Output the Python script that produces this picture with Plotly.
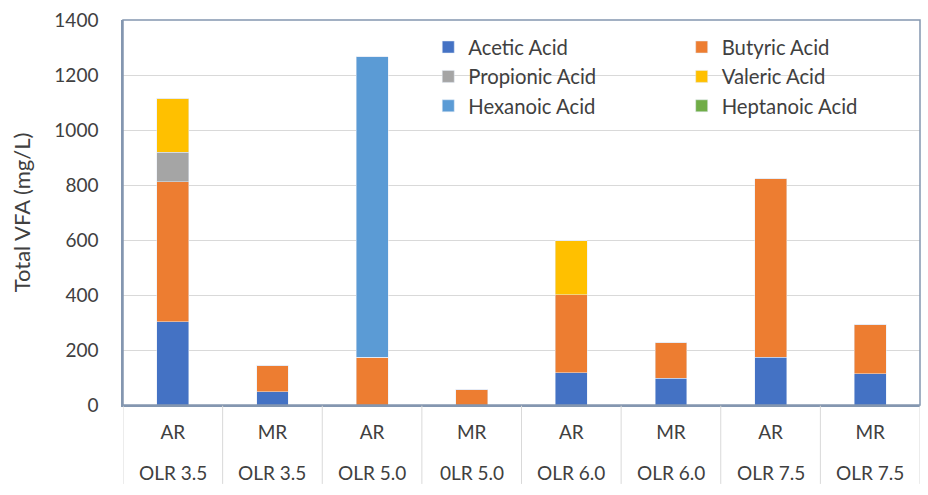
import plotly.graph_objects as go

reactor = ["AR", "MR", "AR", "MR", "AR", "MR", "AR", "MR"]
olr = ["OLR 3.5", "OLR 3.5", "OLR 5.0", "0LR 5.0", "OLR 6.0", "OLR 6.0", "OLR 7.5", "OLR 7.5"]

acetic = [302, 48, 0, 0, 117, 98, 173, 114]
butyric = [510, 96, 173, 57, 284, 129, 649, 179]
propionic = [108, 0, 0, 0, 0, 0, 0, 0]
valeric = [195, 0, 0, 0, 197, 0, 0, 0]
hexanoic = [0, 0, 1094, 0, 0, 0, 0, 0]
heptanoic = [0, 0, 0, 0, 0, 0, 0, 0]

series = [
    ("Acetic Acid", acetic, "#4472c4", "legend"),
    ("Butyric Acid", butyric, "#ed7d31", "legend2"),
    ("Propionic Acid", propionic, "#a5a5a5", "legend"),
    ("Valeric Acid", valeric, "#ffc000", "legend2"),
    ("Hexanoic Acid", hexanoic, "#5b9bd5", "legend"),
    ("Heptanoic Acid", heptanoic, "#70ad47", "legend2"),
]

x_idx = list(range(len(reactor)))
FONT = "Lato"
TXT = "#404040"

fig = go.Figure()
for name, vals, color, lg in series:
    fig.add_trace(go.Bar(
        x=x_idx, y=vals, name=name, marker_color=color, width=0.32,
        legend=lg, legendgroup=name,
    ))

shapes = []
for i in range(len(reactor) + 1):
    shapes.append(dict(type="line", xref="x", yref="paper", x0=i - 0.5, x1=i - 0.5,
                       y0=0, y1=-0.205, line=dict(color="#d9d9d9", width=1)))
shapes.append(dict(type="rect", xref="paper", yref="paper", x0=0, x1=1, y0=0, y1=1,
                   line=dict(color="#8497b0", width=1.5), layer="above"))

annotations = []
for i, t in enumerate(olr):
    annotations.append(dict(x=i, y=-0.175, xref="x", yref="paper", text=t, showarrow=False,
                            font=dict(family=FONT, size=19, color=TXT), yanchor="middle"))

legend_common = dict(font=dict(family=FONT, size=20.3, color=TXT), bgcolor="rgba(0,0,0,0)",
                     orientation="v", tracegroupgap=0, yanchor="top", xanchor="left",
                     itemclick=False)

fig.update_layout(
    width=928, height=495,
    margin=dict(l=123, r=8, t=15, b=90),
    paper_bgcolor="white", plot_bgcolor="white",
    barmode="stack",
    font=dict(family=FONT, size=19, color=TXT),
    xaxis=dict(
        range=[-0.5, len(reactor) - 0.5], tickmode="array", tickvals=x_idx, ticktext=reactor,
        showgrid=False, zeroline=False, showline=True, linecolor="#8497b0", linewidth=1.5,
        ticks="outside", ticklen=9, tickcolor="rgba(0,0,0,0)",
        tickfont=dict(family=FONT, size=19, color=TXT),
    ),
    yaxis=dict(
        range=[0, 1400], dtick=200, showgrid=True, gridcolor="#d9d9d9", gridwidth=1,
        zeroline=False, showline=True, linecolor="#8497b0", linewidth=1.5,
        ticks="outside", ticklen=19, tickcolor="rgba(0,0,0,0)",
        tickfont=dict(family=FONT, size=19, color=TXT),
        title=dict(text="Total VFA (mg/L)", font=dict(family=FONT, size=22, color=TXT), standoff=18),
    ),
    legend=dict(x=0.383, y=0.981, **legend_common),
    legend2=dict(x=0.701, y=0.981, **legend_common),
    shapes=shapes,
    annotations=annotations,
    showlegend=True,
)

fig.write_html("out.html", config={"displayModeBar": False},
               post_script="document.body.style.margin='0';")
